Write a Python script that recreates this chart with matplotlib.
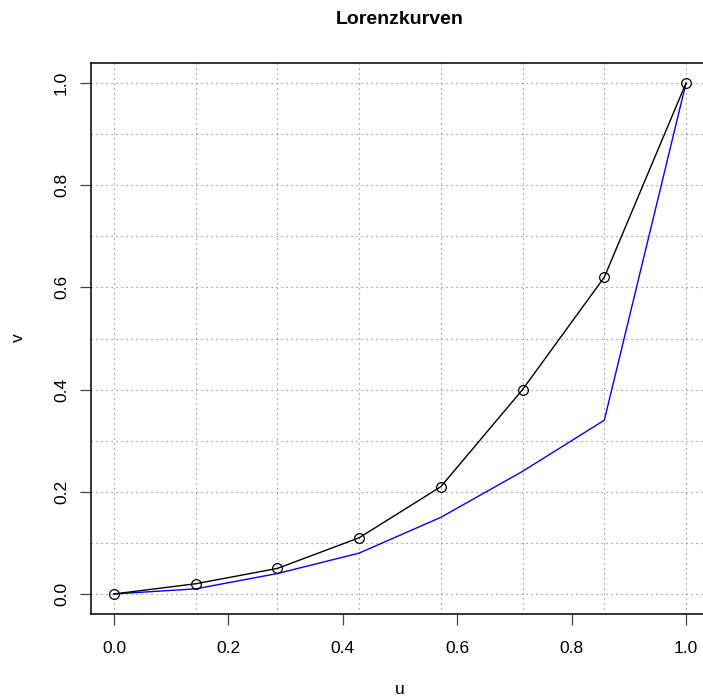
import numpy as np
import matplotlib
matplotlib.use('Agg')
import matplotlib.pyplot as plt

plt.rcParams['font.family'] = ['Liberation Sans', 'DejaVu Sans']

# Daten der Lorenzkurven
u = [0, 1/7, 2/7, 3/7, 4/7, 5/7, 6/7, 1]
v_schwarz = [0.0, 0.02, 0.05, 0.11, 0.21, 0.40, 0.62, 1.0]
v_blau = [0.0, 0.01, 0.04, 0.08, 0.15, 0.24, 0.34, 1.0]
xticks = [0.0, 0.2, 0.4, 0.6, 0.8, 1.0]
yticks = [0.0, 0.2, 0.4, 0.6, 0.8, 1.0]
hgrid = [0.0, 0.1, 0.2, 0.3, 0.4, 0.5, 0.6, 0.7, 0.8, 0.9, 1.0]

fig = plt.figure(figsize=(7.03, 6.97), dpi=100)
W, H = 703, 697
ax = fig.add_axes([91.1 / W, 1 - 614.4 / H, (708.9 - 91.1) / W, (614.4 - 62.6) / H])

# Gitter (wie abline(..., lty=3))
for x in u:
    ax.axvline(x, color='#777777', linestyle=(0, (1, 3.5)), linewidth=0.8, zorder=1)
for y in hgrid:
    ax.axhline(y, color='#777777', linestyle=(0, (1, 3.5)), linewidth=0.8, zorder=1)

ax.plot(u, v_schwarz, color='black', linewidth=1, marker='o', markersize=7,
        markerfacecolor='none', markeredgecolor='black', markeredgewidth=0.9, zorder=3)
ax.plot(u, v_blau, color='blue', linewidth=1, zorder=2)

ax.set_xlim(-0.04, 1.04)
ax.set_ylim(-0.04, 1.04)
ax.set_xticks(xticks)
ax.set_xticklabels(['%.1f' % t for t in xticks], fontsize=12.5)
ax.set_yticks(yticks)
ax.set_yticklabels(['%.1f' % t for t in yticks], fontsize=12.5, rotation=90, va='center')
ax.tick_params(direction='out', length=8, width=0.9, color='#444444')
ax.tick_params(axis='x', pad=11)
ax.tick_params(axis='y', pad=8)
for s in ax.spines.values():
    s.set_linewidth(1.1)

fig.text(400 / W, 1 - 690 / H, 'u', ha='center', va='center', fontsize=12.5)
fig.text(18 / W, 1 - 338 / H, 'v', ha='center', va='center', fontsize=12.5, rotation=90)
fig.text(400 / W, 1 - 20 / H, 'Lorenzkurven', ha='center', va='center',
         fontsize=14, fontweight='bold')

fig.savefig('out.png', dpi=100)
